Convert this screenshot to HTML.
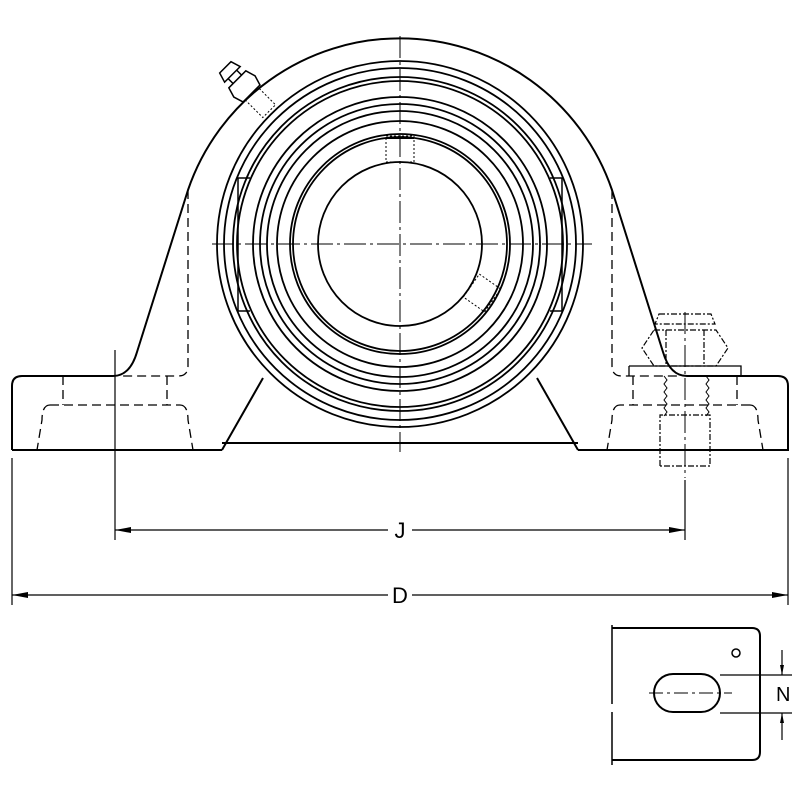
<!DOCTYPE html>
<html><head><style>html,body{margin:0;padding:0;background:#fff}svg{display:block}</style></head>
<body>
<svg width="800" height="800" viewBox="0 0 800 800" xmlns="http://www.w3.org/2000/svg" fill="none" stroke="#000" stroke-width="2">
<!-- housing outline -->
<path d="M12,450 L12,386 Q12,376 22,376 L113,376 Q130,376 137,352 L188,190 A224,224 0 0 1 612,190 L663,352 Q670,376 687,376 L778,376 Q788,376 788,386 L788,450 L578,450 M222,450 L12,450 M222,450 L263,378 M222,443 L578,443"/>
<path d="M578,450 L537,378" />
<!-- bearing circles -->
<g stroke-width="1.8">
<circle cx="400" cy="244" r="183"/>
<circle cx="400" cy="244" r="176"/>
<circle cx="400" cy="244" r="167"/>
<circle cx="400" cy="244" r="163"/>
<circle cx="400" cy="244" r="147"/>
<circle cx="400" cy="244" r="140"/>
<circle cx="400" cy="244" r="133"/>
<circle cx="400" cy="244" r="123"/>
<circle cx="400" cy="244" r="110"/>
<circle cx="400" cy="244" r="107"/>
<circle cx="400" cy="244" r="82"/>
</g>
<!-- slots -->
<path d="M250,178 L238,178 L238,311 L250,311 M550,178 L562,178 L562,311 L550,311" stroke-width="1.5"/>
<!-- dashed hidden lines -->
<g stroke-width="1.3" stroke-dasharray="9,5">
<path d="M188,190 L188,366 Q188,376 178,376 L120,376"/>
<path d="M612,190 L612,366 Q612,376 622,376 L680,376"/>
<path d="M63,376 L63,405 M167,376 L167,405 M50,405 L180,405 M50,405 Q42,405 42,420 L37,450 M180,405 Q188,405 188,420 L193,450"/>
<path d="M737,376 L737,405 M633,376 L633,405 M750,405 L620,405 M750,405 Q758,405 758,420 L763,450 M620,405 Q612,405 612,420 L607,450"/>
</g>
<!-- center lines -->
<g stroke-width="1" stroke-dasharray="22,4,3,4">
<path d="M400,36 L400,452"/>
<path d="M212,244 L592,244"/>
<path d="M685,312 L685,478"/>
</g>
<path d="M115,350 L115,540 M685,480 L685,540 M12,458 L12,605 M788,458 L788,605" stroke-width="1.2"/>
<!-- bolt -->
<g stroke-width="1.2" stroke-dasharray="6,2,2,2">
<path d="M659,314 L711,314 L715,324 L655,324 Z"/>
<path d="M654,330 L716,330 L728,348 L716,366 L654,366 L642,348 Z"/>
<path d="M666,330 L666,366 M704,330 L704,366"/>
<path d="M660,466 L660,415 L710,415 L710,466 L660,466"/>
</g>
<path d="M629,366 L741,366 L741,375 M629,366 L629,376" stroke-width="1.3"/>
<path d="M664,376 l3,4 -3,4 3,4 -3,4 3,4 -3,4 3,4 -3,4 3,4 -3,4 M706,376 l3,4 -3,4 3,4 -3,4 3,4 -3,4 3,4 -3,4 3,4 -3,4" stroke-width="1"/>
<!-- grease fitting -->
<g transform="rotate(-45 243 85)" stroke-width="1.5">
<path d="M235,60 L251,60 L254,70 L232,70 Z M237,70 L249,70 L249,77 L237,77 Z M231,77 L255,77 L258,87 L255,97 L231,97 L228,87 Z"/>
<path d="M234,97 L234,122 L252,122 L252,97" stroke-dasharray="2,2" stroke-width="1"/>
</g>
<!-- set screws -->
<path d="M386,136 L414,136 L414,162 L386,162 Z" stroke-width="1" stroke-dasharray="2,2"/>
<path d="M386,138 L414,138" stroke-width="2"/>
<g transform="rotate(-55 482 293)"><path d="M468,280 L496,280 L496,306 L468,306 Z" stroke-width="1" stroke-dasharray="2,2"/></g>
<!-- dimensions -->
<g stroke-width="1.2">
<path d="M115,530 L388,530 M412,530 L685,530"/>
<path d="M12,595 L388,595 M412,595 L788,595"/>
</g>
<g fill="#000" stroke="none">
<path d="M115,530 l16,-3 0,6 z M685,530 l-16,-3 0,6 z M12,595 l16,-3 0,6 z M788,595 l-16,-3 0,6 z"/>
<path d="M782,675 l-2,-10 4,0 z M782,713 l-2,10 4,0 z"/>
</g>
<text x="400" y="538" font-family="Liberation Sans, sans-serif" font-size="22" text-anchor="middle" fill="#000" stroke="none">J</text>
<text x="400" y="603" font-family="Liberation Sans, sans-serif" font-size="22" text-anchor="middle" fill="#000" stroke="none">D</text>
<!-- bottom view -->
<path d="M612,628 L752,628 Q760,628 760,636 L760,752 Q760,760 752,760 L612,760" stroke-width="2"/>
<path d="M612,625 L612,704 M612,712 L612,765" stroke-width="1.5"/>
<circle cx="736" cy="653" r="4" stroke-width="1.5"/>
<rect x="654" y="674" width="66" height="38" rx="19" stroke-width="2"/>
<path d="M649,693 L732,693" stroke-width="1" stroke-dasharray="14,4,3,4"/>
<path d="M720,675 L792,675 M720,713 L792,713 M782,650 L782,675 M782,713 L782,740" stroke-width="1.2"/>
<text x="776" y="701" font-family="Liberation Sans, sans-serif" font-size="20" fill="#000" stroke="none">N</text>
</svg>
</body></html>
